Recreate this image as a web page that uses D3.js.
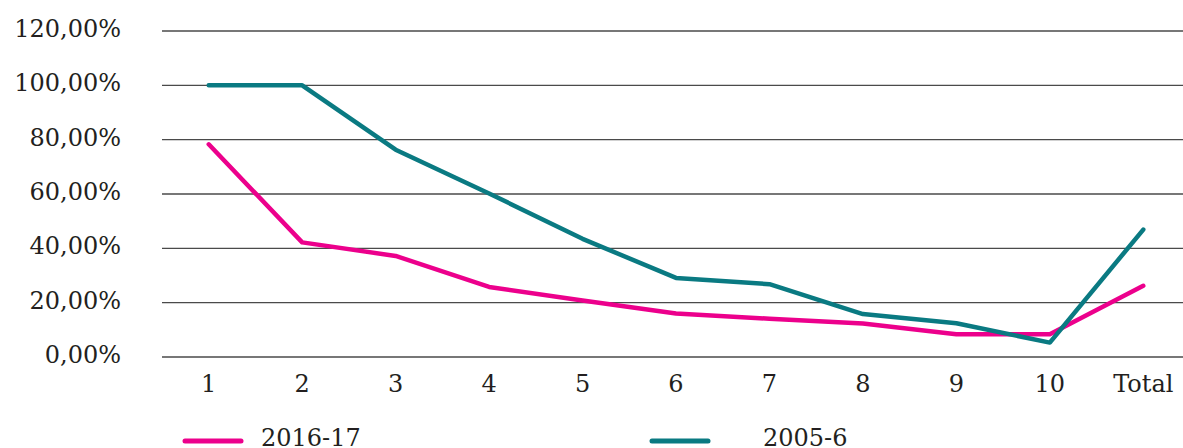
<!DOCTYPE html>
<html><head><meta charset="utf-8">
<script src="https://cdn.jsdelivr.net/npm/d3@7"></script>
<style>body{margin:0;background:#fff}svg{display:block}</style>
</head><body>
<svg id="c" width="1183" height="448"></svg>
<script>
const categories = ["1","2","3","4","5","6","7","8","9","10","Total"];
const series2016 = [78.3, 42.2, 37.2, 25.8, 20.8, 16.0, 14.1, 12.3, 8.4, 8.4, 26.2];
const series2005 = [100, 100, 76.3, 60.2, 43.5, 29.1, 26.8, 15.8, 12.4, 5.3, 46.9];
const yTicks = [0, 20, 40, 60, 80, 100, 120];
const seriesNames = ["2016-17", "2005-6"];
const colors = ["#ec008c", "#0a7a82"];

const svg = d3.select("#c");
const font = "'DejaVu Serif', serif";
const x = d3.scalePoint().domain(categories).range([162, 1190]).padding(0.5);
const y = d3.scaleLinear().domain([0, 120]).range([357, 31]);

// gridlines
svg.append("g").selectAll("line").data(yTicks).join("line")
  .attr("x1", 162).attr("x2", 1183)
  .attr("y1", d => y(d)).attr("y2", d => y(d))
  .attr("stroke", "#4a4a4a").attr("stroke-width", 1.3);

// y labels
svg.append("g").selectAll("text").data(yTicks).join("text")
  .attr("x", 121).attr("y", d => y(d) + 6)
  .attr("text-anchor", "end").attr("font-family", font).attr("font-size", 24)
  .attr("fill", "#231f20")
  .text(d => d.toFixed(2).replace(".", ",") + "%");

// x labels
svg.append("g").selectAll("text").data(categories).join("text")
  .attr("x", d => x(d)).attr("y", 392)
  .attr("text-anchor", "middle").attr("font-family", font).attr("font-size", 24)
  .attr("fill", "#231f20")
  .text(d => d);

const line = d3.line().x((d, i) => x(categories[i])).y(d => y(d));
[series2016, series2005].forEach((s, k) => {
  svg.append("path").datum(s).attr("d", line)
    .attr("fill", "none").attr("stroke", colors[k]).attr("stroke-width", 4.5)
    .attr("stroke-linejoin", "round").attr("stroke-linecap", "round");
});

// legend
const legX = [185, 652], legTextX = [261, 763];
seriesNames.forEach((n, k) => {
  svg.append("line").attr("x1", legX[k]).attr("x2", legX[k] + 56)
    .attr("y1", 441).attr("y2", 441)
    .attr("stroke", colors[k]).attr("stroke-width", 5).attr("stroke-linecap", "round");
  svg.append("text").attr("x", legTextX[k]).attr("y", 446)
    .attr("font-family", font).attr("font-size", 24).attr("fill", "#231f20").text(n);
});
</script>
</body></html>
